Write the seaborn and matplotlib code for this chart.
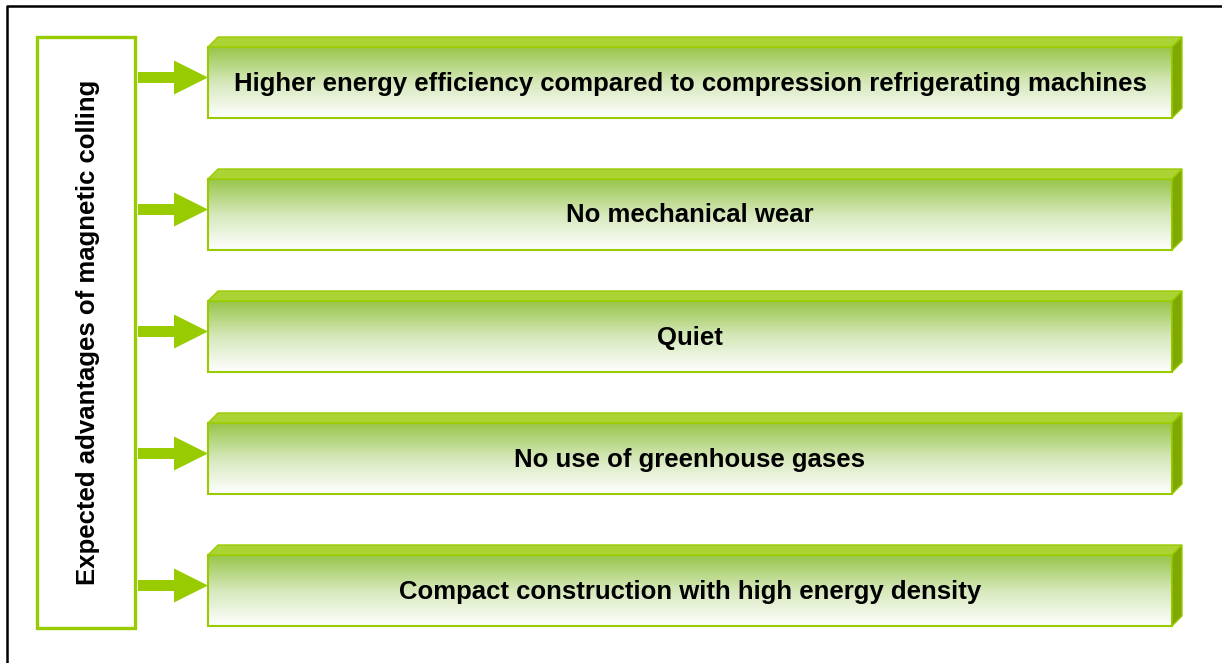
import matplotlib
matplotlib.use("Agg")
import matplotlib.pyplot as plt
from matplotlib.patches import Rectangle, Polygon
import numpy as np
import seaborn as sns

# ---- content ----
title = "Expected advantages of magnetic colling"
advantages = [
    "Higher energy efficiency compared to compression refrigerating machines",
    "No mechanical wear",
    "Quiet",
    "No use of greenhouse gases",
    "Compact construction with high energy density",
]

# ---- layout (pixel space) ----
box_tops = [37, 169, 291, 413, 545]   # top of bevelled box
box_h = 81
bevel = 10
box_x0, box_x1 = 208, 1172

green = "#99CC00"
top_col = "#AAD333"
side_col = "#7FA800"

sns.set_theme(style="white")
plt.rcParams["font.family"] = ["Liberation Sans", "DejaVu Sans"]

W, H = 1222, 663
fig = plt.figure(figsize=(W / 100, H / 100), dpi=100)
ax = fig.add_axes([0, 0, 1, 1])
ax.set_xlim(0, W)
ax.set_ylim(H, 0)
ax.axis("off")

# outer frame (only top and left visible)
ax.plot([7, 7, W], [H, 6, 6], color="black", lw=1.8, solid_capstyle="butt", zorder=1)

# left title box
ax.add_patch(Rectangle((37, 37), 98, 591, fill=False, edgecolor=green, lw=2.4, zorder=2))
ax.text(88, 332, title, rotation=90, ha="center", va="center",
        fontsize=18.5, fontweight="bold", color="black", zorder=3)

cmap = sns.blend_palette(["#98C549", "#D6E8BB", "#FFFFFF"], as_cmap=True)
grad = np.linspace(0, 1, 256).reshape(-1, 1)

for i, label in enumerate(advantages):
    top = box_tops[i]
    ft = top + bevel            # front-face top
    fb = top + box_h            # front-face bottom
    cy = top + box_h / 2        # arrow level
    # arrow
    ax.add_patch(Polygon([(138, cy - 5.5), (174, cy - 5.5), (174, cy - 17),
                          (208, cy), (174, cy + 17), (174, cy + 5.5), (138, cy + 5.5)],
                         closed=True, facecolor=green, edgecolor="none", zorder=2))
    # front face gradient
    ax.imshow(grad, cmap=cmap, aspect="auto", extent=[box_x0, box_x1, fb, ft],
              interpolation="bilinear", zorder=2)
    ax.add_patch(Rectangle((box_x0, ft), box_x1 - box_x0, fb - ft, fill=False,
                           edgecolor=green, lw=1.5, zorder=3))
    # top face
    ax.add_patch(Polygon([(box_x0, ft), (box_x0 + bevel, top), (box_x1 + bevel, top), (box_x1, ft)],
                         closed=True, facecolor=top_col, edgecolor=green, lw=1.0, zorder=3))
    # side face
    ax.add_patch(Polygon([(box_x1, ft), (box_x1 + bevel, top), (box_x1 + bevel, fb - bevel), (box_x1, fb)],
                         closed=True, facecolor=side_col, edgecolor=green, lw=1.0, zorder=3))
    ax.text((box_x0 + box_x1) / 2, (ft + fb) / 2 + 1, label, ha="center", va="center",
            fontsize=18.5, fontweight="bold", color="black", zorder=4)

fig.savefig("out.png", dpi=100, facecolor="white")
